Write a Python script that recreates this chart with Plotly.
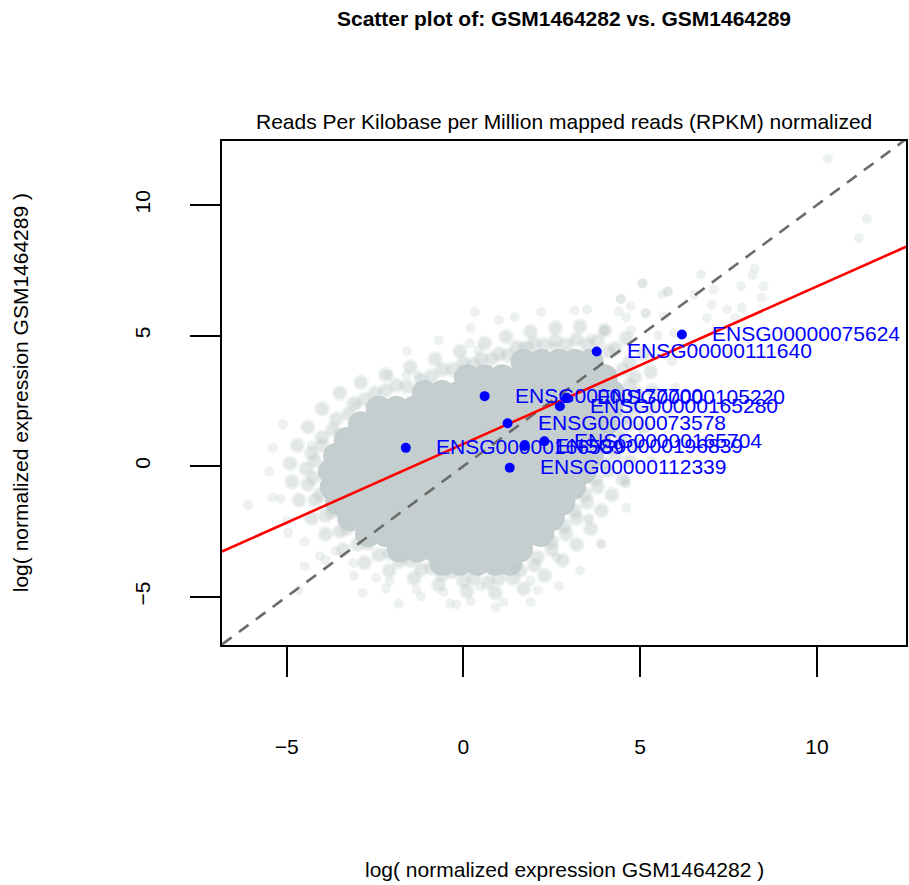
import plotly.graph_objects as go

# ---------------- data ----------------
X_RANGE = [-6.83, 12.52]
Y_RANGE = [-6.85, 12.45]
TICKS = [-5, 0, 5, 10]
TICK_TEXT = ["\u22125", "0", "5", "10"]

FIT_INTERCEPT = 0.85
FIT_SLOPE = 0.603

# dense core of the gene cloud: rows of (y, [x ...])
CORE_ROWS = [
    (4.0, [1.7, 2.2, 2.7, 3.15, 3.6]),
    (3.4, [0.1, 0.6, 1.1, 1.6, 2.1, 2.55, 3.0, 3.5, 4.0]),
    (2.8, [-1.1, -0.6, -0.1, 0.4, 0.9, 1.4, 1.9, 2.4, 2.9, 3.35, 3.8, 4.2]),
    (2.2, [-2.4, -1.9, -1.4, -0.9, -0.4, 0.1, 0.6, 1.1, 1.6, 2.1, 2.6, 3.1, 3.6, 4.15]),
    (1.6, [-2.9, -2.4, -1.9, -1.4, -0.9, -0.4, 0.1, 0.6, 1.1, 1.6, 2.1, 2.6, 3.1, 3.6, 4.0]),
    (1.0, [-3.3, -2.8, -2.3, -1.8, -1.3, -0.8, -0.3, 0.2, 0.7, 1.2, 1.7, 2.2, 2.7, 3.2, 3.8]),
    (0.4, [-3.6, -3.1, -2.6, -2.1, -1.6, -1.1, -0.6, -0.1, 0.4, 0.9, 1.4, 1.9, 2.4, 2.9, 3.3, 3.6]),
    (-0.2, [-3.75, -3.25, -2.75, -2.25, -1.75, -1.25, -0.75, -0.25, 0.25, 0.75, 1.25, 1.75, 2.25, 2.75, 3.1, 3.4]),
    (-0.8, [-3.7, -3.2, -2.7, -2.2, -1.7, -1.2, -0.7, -0.2, 0.3, 0.8, 1.3, 1.8, 2.3, 2.7, 3.1]),
    (-1.4, [-3.55, -3.05, -2.55, -2.05, -1.55, -1.05, -0.55, -0.05, 0.45, 0.95, 1.45, 1.95, 2.4, 2.8]),
    (-2.0, [-3.2, -2.7, -2.2, -1.7, -1.2, -0.7, -0.2, 0.3, 0.8, 1.3, 1.8, 2.2, 2.5]),
    (-2.6, [-2.7, -2.2, -1.7, -1.2, -0.7, -0.2, 0.3, 0.8, 1.3, 1.8, 2.2]),
    (-3.2, [-1.8, -1.3, -0.8, -0.3, 0.2, 0.7, 1.2, 1.6]),
    (-3.7, [-0.6, -0.1, 0.4, 0.9, 1.3]),
]

# genes on the fuzzy fringe of the core
FRINGE_X = [
    1.0, 1.5, 2.0, 2.6, 3.2, 3.8, 4.3, 4.7, 4.85, 4.9, 4.9, 4.7, 4.5, 4.3, 4.1, 3.8, 3.5, 3.2, 2.9, 2.5, 2.0, 1.4,
    0.7, 0.0, -0.6, -1.2, -1.8, -2.4, -3.0, -3.5, -3.9, -4.2, -4.4, -4.45, -4.3, -4.0, -3.6, -3.1, -2.5, -1.9, -1.2, -0.6, 0.0, 0.5,
    1.25, 1.8, 2.3, 2.9, 3.5, 4.1, 4.5, 4.7, 4.75, 4.6, 4.4, 4.2, 4.0, 3.75, 3.45, 3.15, 2.85, 2.5, 2.1, 1.6, 1.0, 0.3,
    -0.3, -0.9, -1.5, -2.1, -2.7, -3.3, -3.7, -4.05, -4.25, -4.2, -4.0, -3.7, -3.25, -2.8, -2.2, -1.6, -0.9, -0.3, 0.3, 0.8,
    0.6, 1.2, 1.9, 2.6, 3.3, 4.0, 4.6, 5.1, 5.3, 5.35, 5.3, 5.1, 4.9, 4.7, 4.5, 4.2, 3.9, 3.6, 3.2, 2.8, 2.3, 1.7, 0.9, 0.1,
    -0.7, -1.4, -2.1, -2.8, -3.4, -3.9, -4.3, -4.65, -4.85, -4.9, -4.7, -4.4, -4.0, -3.5, -2.9, -2.2, -1.5, -0.8, -0.1,
]
FRINGE_Y = [
    4.3, 4.55, 4.7, 4.8, 4.85, 4.8, 4.5, 4.0, 3.4, 2.8, 2.2, 1.6, 1.0, 0.4, -0.2, -0.8, -1.4, -2.0, -2.6, -3.2, -3.8, -4.3,
    -4.45, -4.4, -4.15, -3.95, -3.65, -3.4, -3.0, -2.5, -1.9, -1.3, -0.7, -0.1, 0.5, 1.1, 1.8, 2.4, 2.8, 3.1, 3.3, 3.7, 3.95, 4.1,
    4.25, 4.55, 4.65, 4.65, 4.65, 4.4, 3.7, 3.1, 2.5, 1.9, 1.3, 0.7, 0.1, -0.5, -1.1, -1.7, -2.3, -2.9, -3.5, -4.0, -4.3, -4.3,
    -4.05, -3.9, -3.6, -3.35, -2.95, -2.4, -1.75, -1.1, -0.45, 0.2, 0.8, 1.4, 2.0, 2.55, 2.9, 3.05, 3.45, 3.7, 3.9, 4.1,
    4.7, 4.95, 5.15, 5.3, 5.35, 5.2, 4.9, 4.3, 3.6, 2.9, 2.2, 1.5, 0.8, 0.2, -0.5, -1.1, -1.7, -2.4, -3.0, -3.6, -4.2, -4.7, -4.85, -4.8,
    -4.55, -4.3, -4.0, -3.7, -3.2, -2.6, -2.0, -1.3, -0.6, 0.1, 0.8, 1.5, 2.2, 2.8, 3.2, 3.5, 3.8, 4.1, 4.4,
]

# sparse individual genes further out
OUTLIER_X = [
    0.2, 1.0, 2.2, 3.5, 4.6, 5.5, 5.9, 6.0, 5.8, 5.3, 4.6, 3.3, 2.7, 1.9, 0.9, -0.2, -1.2, -2.2, -3.1, -3.9, -4.5,
    -5.0, -5.4, -5.5, -5.4, -5.1, -1.6, -0.7,
    10.31, 11.41, 11.19, 8.24, 8.18, 6.72, 5.06, 5.79, 5.62, 7.85, 8.49, 7.08, 6.52, 4.45, 4.73, 7.03, 7.88, 8.44,
    7.46, 5.15, 4.40, 5.67, 5.95, 6.89, 7.69, 3.98,
    -6.09, -5.18, -4.96, -4.49, -4.67, -2.85, -1.83, -0.39, 0.21, 1.13, 2.10, 1.89, 3.91, 3.53, 2.64, 4.59, -2.09,
    -1.33, -0.56, 0.47, 1.49, -4.06, -3.62, -3.11, -2.47,
    -4.29, -3.02, -2.12, -1.61, -1.28, 0.32, 1.45, 0.18, 0.41, 3.14, 4.46, 5.07, 5.77, 5.16, 4.74, 3.99, 3.61, 1.68,
    2.58, 4.60, 3.89, 3.56, 3.89, 4.22, -3.53,
]
OUTLIER_Y = [
    5.3, 5.6, 5.9, 6.0, 5.7, 5.0, 4.0, 3.0, 2.0, 0.2, -1.6, -4.0, -4.6, -5.2, -5.4, -5.3, -5.0, -4.7, -4.2, -3.6, -2.9,
    -2.1, -1.2, -0.2, 0.7, 1.6, 4.4, 4.8,
    11.77, 9.47, 8.74, 7.57, 7.31, 7.34, 6.99, 6.70, 6.57, 6.89, 6.89, 6.76, 6.57, 6.38, 6.12, 6.19, 6.06, 6.44,
    6.0, 5.87, 5.93, 5.74, 5.10, 5.68, 5.68, 5.17,
    -1.49, -1.25, -2.55, -3.83, -4.75, -4.86, -5.26, -5.26, -5.17, -5.2, -4.75, -4.39, -3.0, -2.03, -3.51, -0.67, -4.42,
    -4.75, -4.81, -4.62, -3.97, -3.44, -3.25, -3.71, -4.29,
    0.80, 2.33, 3.48, 3.48, 3.48, 5.9, 5.71, 4.70, 4.44, 5.97, 6.42, 6.99, 6.67, 5.84, 5.2, 5.2, 4.89, 4.57,
    4.57, -0.60, -2.96, -2.0, 0.5, 1.63, 1.31,
]

# highlighted genes
GENE_IDS = [
    "ENSG00000075624", "ENSG00000111640", "ENSG00000177700", "ENSG00000105220",
    "ENSG00000165280", "ENSG00000073578", "ENSG00000165704", "ENSG00000196839",
    "ENSG00000166589", "ENSG00000112339",
]
GENE_X = [6.18, 3.77, 0.60, 2.92, 2.73, 1.25, 2.29, 1.73, -1.63, 1.31]
GENE_Y = [5.04, 4.39, 2.68, 2.62, 2.29, 1.64, 0.95, 0.77, 0.70, -0.06]

MAIN_TITLE = "Scatter plot of: GSM1464282 vs. GSM1464289"
SUB_TITLE = "Reads Per Kilobase per Million mapped reads (RPKM) normalized"
X_TITLE = "log( normalized expression GSM1464282 )"
Y_TITLE = "log( normalized expression GSM1464289 )"

# ---------------- figure ----------------
FONT = "Liberation Sans, Arial, Helvetica, sans-serif"
core_x = [x for y, xs in CORE_ROWS for x in xs]
core_y = [y for y, xs in CORE_ROWS for x in xs]

fig = go.Figure()
fig.add_trace(go.Scatter(
    x=FRINGE_X, y=FRINGE_Y, mode="markers", hoverinfo="skip",
    marker=dict(size=16, color="rgba(190,201,201,0.22)", line=dict(width=0)),
))
fig.add_trace(go.Scatter(
    x=core_x, y=core_y, mode="markers", hoverinfo="skip",
    marker=dict(size=26, color="rgb(197,206,206)", line=dict(width=0)),
))
fig.add_trace(go.Scatter(
    x=FRINGE_X, y=FRINGE_Y, mode="markers", hoverinfo="skip",
    marker=dict(size=12, color="rgba(190,201,201,0.30)", line=dict(width=0)),
))
fig.add_trace(go.Scatter(
    x=OUTLIER_X, y=OUTLIER_Y, mode="markers", hoverinfo="skip",
    marker=dict(size=10, color="rgba(188,200,200,0.26)", line=dict(width=0)),
))
# identity line
fig.add_trace(go.Scatter(
    x=X_RANGE, y=X_RANGE, mode="lines", hoverinfo="skip",
    line=dict(color="#6b6b6b", width=2.6, dash="12px,9px"),
))
# regression line
fig.add_trace(go.Scatter(
    x=X_RANGE, y=[FIT_INTERCEPT + FIT_SLOPE * v for v in X_RANGE], mode="lines",
    hoverinfo="skip", line=dict(color="#ff0000", width=2.6),
))
fig.add_trace(go.Scatter(
    x=GENE_X, y=GENE_Y, mode="markers", hoverinfo="skip",
    marker=dict(size=10, color="#0000ff", line=dict(width=0)),
))

annotations = []
for gid, gx, gy in zip(GENE_IDS, GENE_X, GENE_Y):
    annotations.append(dict(
        x=gx, y=gy, xref="x", yref="y", text=gid, showarrow=False,
        xanchor="left", yanchor="middle", xshift=28, yshift=1,
        font=dict(family=FONT, size=21, color="#0000ff"),
    ))

annotations += [
    dict(x=0.5, y=1.244, xref="paper", yref="paper", text="<b>" + MAIN_TITLE + "</b>",
         showarrow=False, xanchor="center", yanchor="middle",
         font=dict(family=FONT, size=21, color="black")),
    dict(x=0.5, y=1.0377, xref="paper", yref="paper", text=SUB_TITLE,
         showarrow=False, xanchor="center", yanchor="middle",
         font=dict(family=FONT, size=21, color="black")),
    dict(x=0.5, y=-0.4464, xref="paper", yref="paper", text=X_TITLE,
         showarrow=False, xanchor="center", yanchor="middle",
         font=dict(family=FONT, size=21, color="black")),
    dict(x=-0.295, y=0.5, xref="paper", yref="paper", text=Y_TITLE, textangle=-90,
         showarrow=False, xanchor="center", yanchor="middle",
         font=dict(family=FONT, size=21, color="black")),
]

axis_common = dict(
    tickmode="array", tickvals=TICKS, ticktext=TICK_TEXT,
    ticks="outside", ticklen=30, tickwidth=2, tickcolor="black",
    showline=True, linewidth=2, linecolor="black", mirror=True,
    showgrid=False, zeroline=False,
    tickfont=dict(family=FONT, size=21, color="black"),
)

fig.update_layout(
    width=909, height=885,
    margin=dict(l=222, r=1, t=141, b=240, pad=0),
    paper_bgcolor="white", plot_bgcolor="white",
    showlegend=False,
    xaxis=dict(range=X_RANGE, ticklabelstandoff=52, **axis_common),
    yaxis=dict(range=Y_RANGE, tickangle=-90, ticklabelstandoff=32, **axis_common),
    annotations=annotations,
)

fig.write_html("out.html")
